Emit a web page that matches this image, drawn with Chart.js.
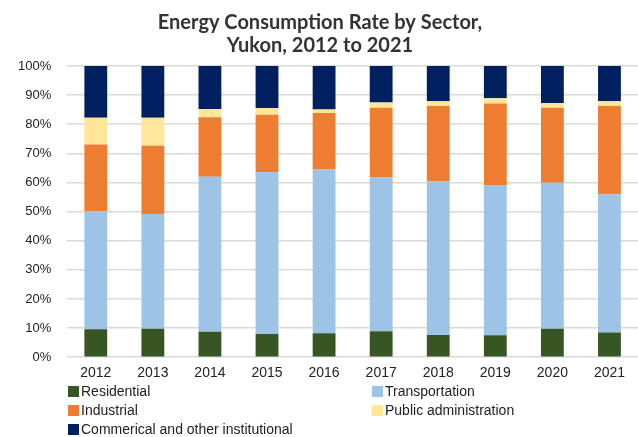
<!DOCTYPE html>
<html lang="en">
<head>
    <meta charset="UTF-8">
    <title>Energy Consumption Rate by Sector, Yukon</title>
    <script src="https://cdn.jsdelivr.net/npm/chart.js"></script>
    <style>
        body {
            margin: 0;
            background-color: white;
            font-family: "Liberation Sans", Arial, sans-serif;
        }
        .wrap {
            position: relative;
            width: 638px;
            height: 437px;
        }
        .chart-box {
            position: absolute;
            left: 0;
            top: 0;
            width: 638px;
            height: 393px;
        }
        .legend {
            position: absolute;
            left: 68px;
            top: 383px;
            display: grid;
            grid-template-columns: 304px 260px;
            row-gap: 2px;
            font-size: 14px;
            color: #222;
        }
        .legend div {
            height: 17px;
            line-height: 17px;
            white-space: nowrap;
        }
        .legend span {
            display: inline-block;
            width: 11px;
            height: 11px;
            margin-right: 2px;
            vertical-align: -1px;
        }
    </style>
</head>
<body>
    <div class="wrap">
        <div class="chart-box">
            <canvas id="sectorChart"></canvas>
        </div>
        <div class="legend" id="legend"></div>
    </div>

    <script>
        const years = ['2012', '2013', '2014', '2015', '2016', '2017', '2018', '2019', '2020', '2021'];
        const residential = [9.6, 9.8, 8.7, 8.0, 8.2, 8.9, 7.6, 7.5, 9.8, 8.5];
        const transportation = [40.6, 39.4, 53.3, 55.5, 56.3, 52.9, 52.8, 51.6, 50.1, 47.5];
        const industrial = [22.8, 23.4, 20.4, 19.8, 19.4, 23.9, 25.9, 28.0, 25.8, 30.3];
        const publicAdmin = [9.2, 9.6, 2.8, 2.3, 1.2, 1.8, 1.6, 1.8, 1.6, 1.6];
        const commercial = [17.8, 17.8, 14.8, 14.4, 14.9, 12.5, 12.1, 11.1, 12.7, 12.1];
        const sectorNames = ['Residential', 'Transportation', 'Industrial', 'Public administration', 'Commerical and other institutional'];
        const sectorColors = ['#375623', '#9dc3e6', '#ed7d31', '#ffe699', '#002060'];

        const series = [residential, transportation, industrial, publicAdmin, commercial];

        const datasets = series.map((values, i) => ({
            label: sectorNames[i],
            data: values,
            backgroundColor: sectorColors[i],
            borderWidth: 0,
            barPercentage: 0.8,
            categoryPercentage: 0.5
        }));

        new Chart(document.getElementById('sectorChart'), {
            type: 'bar',
            data: { labels: years, datasets: datasets },
            options: {
                responsive: true,
                maintainAspectRatio: false,
                animation: false,
                layout: { padding: { left: 2, right: 0, top: 0, bottom: 3 } },
                plugins: {
                    legend: { display: false },
                    tooltip: { enabled: false },
                    title: {
                        display: true,
                        text: ['Energy Consumption Rate by Sector,', 'Yukon, 2012 to 2021'],
                        color: '#333333',
                        font: { family: 'Lato', size: 20, weight: 'bold', lineHeight: 1.15 },
                        padding: { top: 11, bottom: 9 }
                    }
                },
                scales: {
                    x: {
                        stacked: true,
                        grid: { display: false, tickLength: 0 },
                        border: { display: false },
                        ticks: { color: '#222', font: { family: 'Liberation Sans', size: 14 }, padding: 8 }
                    },
                    y: {
                        stacked: true,
                        min: 0,
                        max: 100,
                        grid: { color: '#d9d9d9', lineWidth: 1.5, drawTicks: false },
                        border: { display: false },
                        ticks: {
                            stepSize: 10,
                            padding: 16,
                            color: '#222',
                            font: { family: 'Liberation Sans', size: 13 },
                            callback: v => v + '%'
                        }
                    }
                }
            }
        });

        const legend = document.getElementById('legend');
        sectorNames.forEach((name, i) => {
            const item = document.createElement('div');
            item.innerHTML = '<span style="background:' + sectorColors[i] + '"></span>' + name;
            legend.appendChild(item);
        });
    </script>
</body>
</html>
